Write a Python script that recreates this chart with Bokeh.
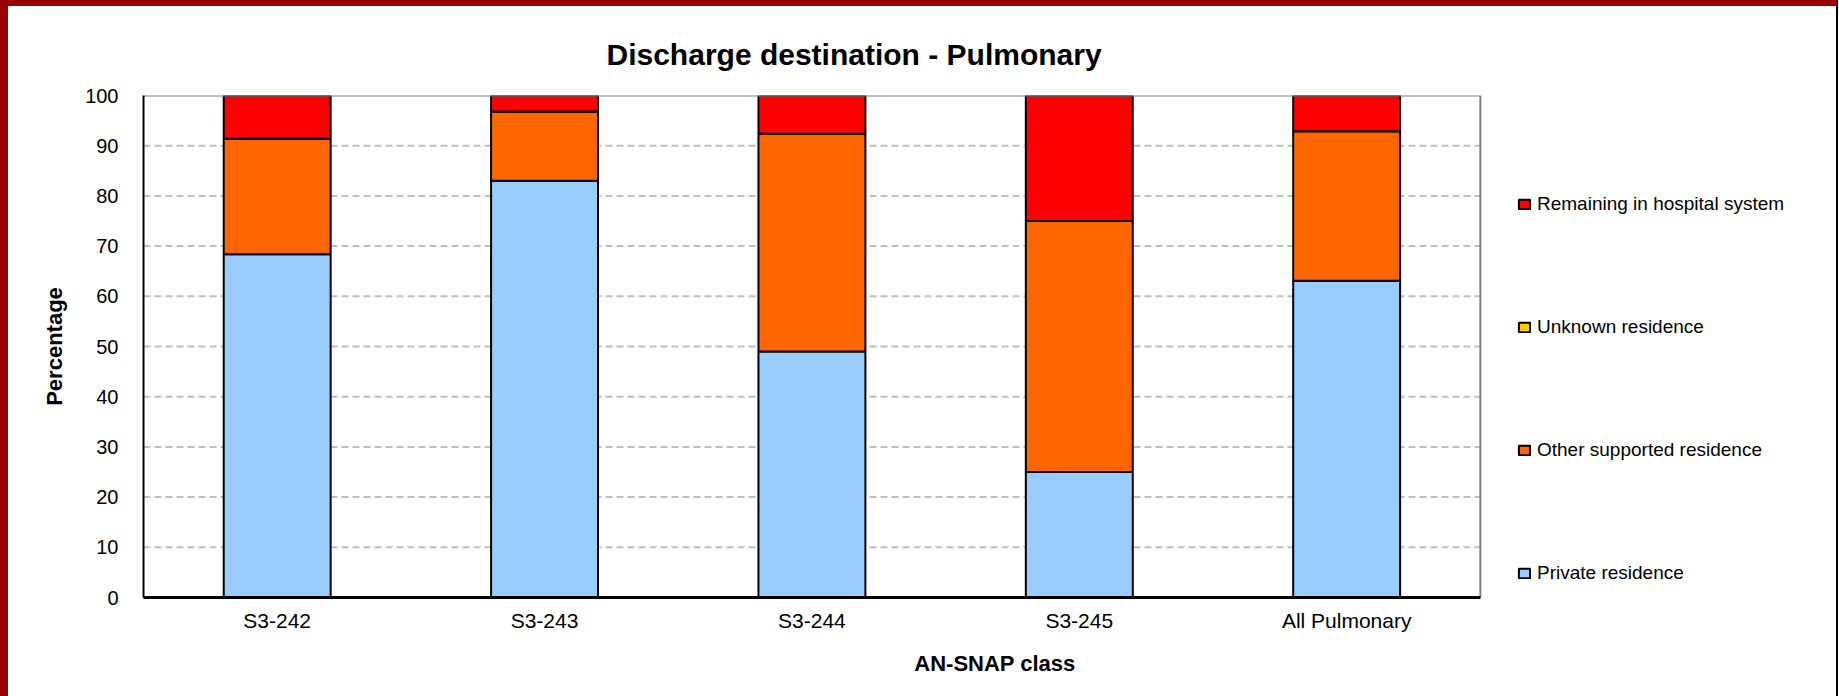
from bokeh.plotting import figure
from bokeh.models import Legend, LegendItem, FixedTicker, Title, ColumnDataSource, Range1d
from bokeh.embed import file_html
from bokeh.resources import INLINE

categories = ["S3-242", "S3-243", "S3-244", "S3-245", "All Pulmonary"]
private_res = [68.4, 83.0, 49.0, 25.0, 63.1]
other_supported = [23.0, 13.8, 43.4, 50.0, 29.8]
unknown_res = [0.0, 0.0, 0.0, 0.0, 0.0]
remaining_hosp = [8.6, 3.2, 7.6, 25.0, 7.1]

series_names = ["Private residence", "Other supported residence", "Unknown residence",
                "Remaining in hospital system"]
series_keys = ["private", "other", "unknown", "remaining"]
colors = ["#99CCFF", "#FF6600", "#FFCC00", "#FF0000"]
y_ticks = [0, 10, 20, 30, 40, 50, 60, 70, 80, 90, 100]

n = len(categories)
x_pos = [i + 0.5 for i in range(n)]

source = ColumnDataSource(dict(x=x_pos, private=private_res, other=other_supported,
                               unknown=unknown_res, remaining=remaining_hosp))

FONT = "Liberation Sans"

# content area 1828 x 690 (plus CSS borders 8/6/2 -> 1838 x 696)
W, H = 1828, 690
LEFT, TOP, BOTTOM = 135, 89, 105
PLOT_W = 1329            # pixel width of the category area (plot area of the original)
FRAME_W = W - LEFT       # frame extended to the right so the legend fits inside it

p = figure(x_range=Range1d(0, n * FRAME_W / PLOT_W), y_range=Range1d(0, 100),
           width=W, height=H, output_backend="svg", toolbar_location=None,
           min_border_left=LEFT, min_border_right=0, min_border_top=TOP,
           min_border_bottom=BOTTOM,
           background_fill_color="white", border_fill_color="white",
           outline_line_color=None)

p.title = Title(text="Discharge destination - Pulmonary", align="left", offset=463,
                text_font_size="30px", text_font=FONT, text_font_style="bold",
                text_color="black", standoff=50)

# dashed horizontal gridlines limited to the plot area
grid_y = [t for t in y_ticks if 0 < t < 100]
p.segment(x0=[0] * len(grid_y), x1=[n] * len(grid_y), y0=grid_y, y1=grid_y,
          line_color="#C0C0C0", line_width=2, line_dash="7 4")

renderers = p.vbar_stack(series_keys, x="x", width=0.4, color=colors,
                         line_color="black", line_width=2, source=source)

# grey plot-area border (top and right)
p.line(x=[0, n, n], y=[100, 100, 0], line_color="#808080", line_width=2)

p.xgrid.visible = False
p.ygrid.visible = False

# axes
p.yaxis.ticker = FixedTicker(ticks=y_ticks)
p.yaxis.bounds = (0, 100)
p.xaxis.ticker = FixedTicker(ticks=x_pos)
p.xaxis.major_label_overrides = {x: c for x, c in zip(x_pos, categories)}
p.xaxis.bounds = (0, n)
p.yaxis.axis_label = "Percentage"
p.xaxis.axis_label = "AN-SNAP class"
for ax in (p.xaxis[0], p.yaxis[0]):
    ax.axis_line_color = "black"
    ax.major_tick_line_color = None
    ax.minor_tick_line_color = None
    ax.major_label_text_font = FONT
    ax.major_label_text_color = "black"
    ax.axis_label_text_font = FONT
    ax.axis_label_text_font_style = "bold"
    ax.axis_label_text_color = "black"
    ax.axis_label_text_font_size = "22px"
p.xaxis.axis_line_width = 3
p.yaxis.axis_line_width = 2
p.xaxis.major_label_text_font_size = "21px"
p.yaxis.major_label_text_font_size = "20px"
p.yaxis.major_label_standoff = 19
p.xaxis.major_label_standoff = 5
p.yaxis.axis_label_standoff = 15
p.xaxis.axis_label_standoff = 16

items = [LegendItem(label=series_names[i], renderers=[renderers[i]]) for i in [3, 2, 1, 0]]
legend = Legend(items=items, location=(1374, 13), orientation="vertical",
                label_text_font=FONT, label_text_font_size="19px", label_text_color="black",
                glyph_width=14, glyph_height=12, label_height=22, label_standoff=6,
                spacing=101, padding=0, margin=0,
                border_line_color=None, background_fill_alpha=0)
p.add_layout(legend)

p.styles = {"border-left": "8px solid #990000", "border-top": "6px solid #990000",
            "border-right": "2px solid #000000", "box-sizing": "content-box"}

open("out.html", "w").write(file_html(p, INLINE))
